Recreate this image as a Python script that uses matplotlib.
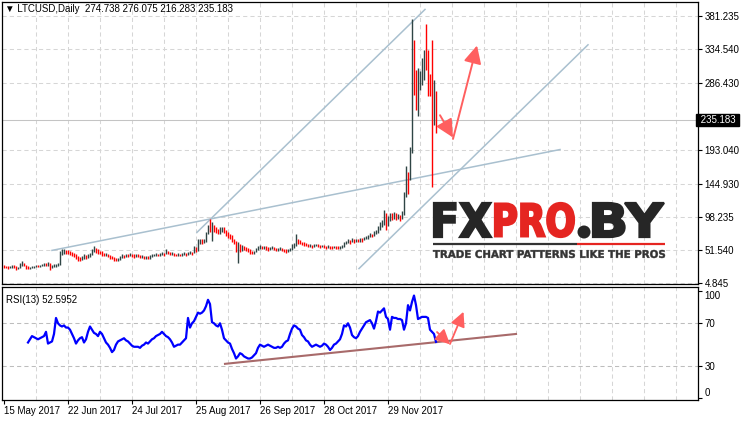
import matplotlib
matplotlib.use("Agg")
import numpy as np
import matplotlib.pyplot as plt
from matplotlib.textpath import TextPath
from matplotlib.patches import PathPatch, Circle
from matplotlib.font_manager import FontProperties
from matplotlib.transforms import Affine2D, blended_transform_factory

W, H = 741, 421
FONT = ["Liberation Sans", "DejaVu Sans"]
plt.rcParams["font.family"] = FONT

# ---- daily bars (open of each bar = previous close) ----
first_open = 28.5
closes = [
    28, 27, 26, 27, 29, 28, 25, 26, 31, 33,
    29, 27, 25, 26, 27, 28, 29, 28, 29, 30,
    31, 30, 32, 26, 28, 29, 29, 30,
    46, 48, 50, 49,
    48, 46, 45, 43, 41,
    39, 38, 40,
    42, 41, 43, 44,
    51, 52, 50, 49,
    47, 46, 44, 45, 43, 41, 40, 39, 37,
    38,
    41, 43, 42, 44, 43, 44,
    43, 42, 44,
    43, 42, 42, 41, 41, 40, 42,
    43, 44, 45, 44, 45, 46, 45,
    49,
    47, 46, 46, 45, 44, 45, 44,
    45, 46, 45, 46, 47, 46,
    52, 50, 60, 63, 62, 64, 74, 82, 78, 86, 81, 79, 77, 80, 82, 78, 74, 72, 70, 66, 63, 55, 58,
    52, 55, 54, 52, 51,
    49, 47, 48,
    52, 54, 55, 54, 55, 53, 52, 53,
    54, 53, 51, 52, 53, 52, 50, 49, 51, 52,
    56, 58,
    64, 62, 61,
    60, 59, 58, 56, 57, 56,
    57, 58, 57, 56, 57, 56, 55, 56, 55, 54, 56,
    55, 54, 55, 56,
    60, 62, 63, 62, 64,
    63, 65, 64, 66, 65, 67, 68,
    70, 72, 71, 74, 76,
    82, 86, 88,
    100, 86, 97, 99,
    98, 100, 97, 99, 96, 101,
    128, 160, 140, 190, 300, 285, 255, 300, 301, 318, 325, 315, 280, 272, 230, 274.738, 235.183,
]
highs = [
    30, 29, 28, 29, 30, 30, 28, 27, 33, 36,
    33, 30, 28, 27, 29, 29, 30, 30, 30, 31,
    33, 32, 34, 33, 30, 31, 31, 32,
    49, 52, 52, 51,
    51, 50, 48, 47, 45,
    42, 41, 42,
    45, 44, 46, 47,
    53, 56, 54, 52,
    50, 49, 47, 47, 46, 44, 42, 41, 40,
    40,
    43, 45, 44, 46, 46, 47,
    46, 45, 46,
    45, 44, 44, 43, 43, 42, 44,
    45, 46, 47, 46, 47, 48, 47,
    52,
    49, 48, 48, 47, 46, 47, 46,
    47, 48, 47, 48, 49, 48,
    57, 55, 66, 67, 66, 67, 77, 86, 95, 91, 86, 83, 81, 83, 84, 83, 79, 76, 74, 72, 67, 64, 62,
    59, 58, 57, 55, 54,
    52, 50, 50,
    54, 56, 58, 57, 57, 56, 55, 55,
    56, 55, 54, 54, 55, 54, 53, 52, 53, 54,
    59, 61,
    73, 66, 65,
    63, 62, 61, 59, 59, 58,
    59, 60, 59, 58, 58, 58, 57, 58, 57, 56, 57,
    57, 56, 57, 58,
    62, 64, 66, 65, 68,
    66, 67, 66, 68, 68, 70, 71,
    72, 75, 74, 78, 80,
    85, 90, 93,
    107, 104, 99, 103,
    104, 105, 103, 102, 101, 106,
    133, 170, 161, 197, 377, 348, 305, 308, 304, 323, 334, 370, 333, 300, 348, 291, 276.075,
]
lows = [
    25, 25, 24, 25, 26, 26, 23, 24, 25, 29,
    28, 24, 24, 24, 25, 26, 27, 27, 27, 28,
    29, 28, 29, 23, 26, 27, 27, 28,
    30, 44, 45, 46,
    46, 44, 43, 41, 39,
    36, 35, 37,
    39, 38, 40, 41,
    44, 48, 47, 46,
    45, 43, 42, 42, 41, 39, 38, 36, 35,
    35,
    37, 40, 40, 41, 41, 42,
    41, 40, 41,
    41, 40, 40, 39, 39, 38, 39,
    41, 42, 43, 42, 43, 44, 43,
    45,
    45, 44, 44, 43, 42, 43, 42,
    43, 44, 43, 44, 45, 44,
    47, 48, 50, 60, 60, 61, 63, 73, 76, 64, 76, 75, 74, 74, 76, 75, 71, 68, 66, 63, 60, 48, 33,
    48, 50, 51, 49, 48,
    46, 45, 45,
    48, 51, 52, 52, 53, 51, 50, 51,
    52, 51, 49, 50, 51, 50, 48, 47, 48, 50,
    51, 54,
    57, 60, 59,
    58, 57, 56, 55, 55, 54,
    55, 56, 55, 54, 55, 54, 53, 54, 53, 52, 54,
    53, 52, 53, 54,
    55, 59, 61, 60, 62,
    61, 62, 62, 63, 63, 65, 66,
    67, 69, 69, 71, 73,
    75, 80, 84,
    86, 79, 85, 92,
    94, 95, 93, 95, 92, 95,
    100, 126, 130, 150, 188, 270, 249, 240, 277, 284, 291, 306, 268, 268, 140, 227, 216.283,
]

# ---- RSI(13), first value at bar 12 ----
rsi_start = 12
rsi_values = [
    52, 55, 58, 57, 56, 55, 56, 57, 58, 62,
    51, 52, 53, 60, 75, 70, 68, 67, 68, 66,
    66, 64, 60, 56, 51, 54, 56, 57, 52, 55,
    62, 67, 64, 61, 60, 58, 62, 60, 56, 52,
    50, 47, 43, 45, 50, 53, 54, 55, 56, 54,
    53, 51, 49, 48, 48, 48, 47, 49, 50, 52,
    51, 53, 55, 56, 58, 59, 60, 62, 60, 58,
    57, 55, 52, 48, 49, 50, 50, 52, 54, 56,
    75, 66, 70, 72, 76, 80, 79, 80, 82, 86,
    92, 88, 71, 70, 68, 67, 70, 64, 56, 54,
    52, 51, 46, 42, 37, 39, 42, 41, 39, 38,
    37, 37, 38, 40, 42, 47, 50, 49, 48, 49,
    50, 49, 48, 47, 47, 48, 47, 48, 51, 53,
    54, 60, 65, 68, 67, 65, 64, 59, 57, 54,
    53, 50, 48, 49, 50, 49, 48, 49, 51, 50,
    48, 45, 47, 50, 51, 53, 55, 60, 68, 67,
    70, 66, 59, 57, 56, 58, 62, 65, 68, 71,
    72, 73, 70, 65, 72, 81, 80, 82, 84, 76,
    74, 64, 76, 75, 75, 74, 74, 73, 64, 70,
    87, 82, 90, 96, 87, 74, 75, 76, 76, 76,
    75, 64, 62, 60, 52.5952,
]

price_ticks = [4.845, 51.540, 98.235, 144.930, 193.040, 286.430, 334.540, 381.235]
price_labels = ["4.845", "51.540", "98.235", "144.930", "193.040", "286.430", "334.540", "381.235"]
last_price = 235.183
rsi_ticks = [0, 30, 70, 100]
date_pos = [0, 32, 64, 96, 128, 160, 192]
date_labels = ["15 May 2017", "22 Jun 2017", "24 Jul 2017", "25 Aug 2017",
               "26 Sep 2017", "28 Oct 2017", "29 Nov 2017"]

# drawn studies (bar index, value)
channel_lines = [((24, 50.5), (278, 193)), ((96.5, 76), (210.5, 391)), ((177.5, 24.8), (292, 341))]
rsi_trend = ((110.5, 32), (256, 60))
price_arrows = [((218, 241.5), (224.5, 210)), ((224.5, 208), (236.5, 340))]
rsi_arrows = [((216.5, 61.8), (223, 50.3)), ((223, 50.6), (229.75, 80.8))]

UP = "#2f4545"
DOWN = "#ff0000"
GRID = "#d6d6d6"
CHAN = "#a9c0cf"
ARROW = "#ff5f5f"


def px_rect(x0, y0, x1, y1):
    return [x0 / W, 1 - y1 / H, (x1 - x0) / W, (y1 - y0) / H]


def fit_text(ax, s, x0, x1, ytop, ybot, color, weight="bold", stroke=0.0):
    tp = TextPath((0, 0), s, size=10, prop=FontProperties(family="DejaVu Sans", weight=weight))
    bb = tp.get_extents()
    tr = (Affine2D().translate(-bb.x0, -bb.y0)
          .scale((x1 - x0) / bb.width, (ybot - ytop) / bb.height)
          .translate(x0, H - ybot))
    ax.add_patch(PathPatch(tr.transform_path(tp), fc=color, ec=color if stroke else "none",
                           lw=stroke, joinstyle="miter", zorder=3))


fig = plt.figure(figsize=(W / 100, H / 100), dpi=100)
fig.patch.set_facecolor("white")
ax_p = fig.add_axes(px_rect(1.5, 1.5, 697.5, 284))
ax_r = fig.add_axes(px_rect(1.5, 287, 697.5, 399.5))

xlim = (-1.25, 346.75)
grid_x = np.arange(16, 347, 16)

# ---- price panel ----
idx = np.arange(len(closes))
opens = [first_open] + closes[:-1]
bar_cols = [UP if c >= o else DOWN for o, c in zip(opens, closes)]
ax_p.vlines(idx, lows, highs, colors=bar_cols, lw=1.0, zorder=3)

ax_p.set_xlim(*xlim)
ax_p.set_ylim(3.0, 402.2)
ax_p.vlines(grid_x, 3.0, 402.2, colors=GRID, lw=0.75, linestyles=(0, (4, 3)), zorder=0)
ax_p.hlines(price_ticks, *xlim, colors=GRID, lw=0.75, linestyles=(0, (4, 3)), zorder=0)
ax_p.axhline(last_price, color="#c4c4c4", lw=0.75, zorder=1)

for (x0, y0), (x1, y1) in channel_lines:
    ax_p.plot([x0, x1], [y0, y1], color=CHAN, lw=1.1, zorder=2)
for tail, tip in price_arrows:
    ax_p.annotate("", xy=tip, xytext=tail, zorder=4,
                  arrowprops=dict(arrowstyle="-|>,head_length=0.9,head_width=0.45",
                                  color=ARROW, lw=1.4, shrinkA=0, shrinkB=0, mutation_scale=12))

ax_p.yaxis.tick_right()
ax_p.set_yticks(price_ticks)
ax_p.set_yticklabels(price_labels)
ax_p.tick_params(axis="y", length=3, width=0.8, pad=2, labelsize=7, colors="black")
ax_p.tick_params(axis="x", length=0, labelbottom=False)
ax_p.text(1.0, last_price, " 235.183 ", transform=blended_transform_factory(ax_p.transAxes, ax_p.transData),
          ha="left", va="center", fontsize=7, color="white",
          bbox=dict(boxstyle="square,pad=0.12", fc="black", ec="black"), clip_on=False)

# ---- RSI panel ----
rsi_idx = np.arange(rsi_start, rsi_start + len(rsi_values))
ax_r.plot(rsi_idx, rsi_values, color="#0000ff", lw=1.6, zorder=3)
ax_r.set_xlim(*xlim)
ax_r.set_ylim(-1.4, 104)
ax_r.vlines(grid_x, -1.4, 104, colors=GRID, lw=0.75, linestyles=(0, (4, 3)), zorder=0)
ax_r.hlines([30, 70], *xlim, colors="#bdbdbd", lw=0.75, linestyles=(0, (4, 3)), zorder=0)
(x0, y0), (x1, y1) = rsi_trend
ax_r.plot([x0, x1], [y0, y1], color="#a86a6a", lw=1.5, zorder=2)
for tail, tip in rsi_arrows:
    ax_r.annotate("", xy=tip, xytext=tail, zorder=4,
                  arrowprops=dict(arrowstyle="-|>,head_length=0.8,head_width=0.4",
                                  color=ARROW, lw=1.3, shrinkA=0, shrinkB=0, mutation_scale=11))

ax_r.yaxis.tick_right()
ax_r.set_yticks(rsi_ticks)
ax_r.set_yticklabels([str(t) for t in rsi_ticks])
ax_r.tick_params(axis="y", length=3, width=0.8, pad=2, labelsize=7)
tl = ax_r.get_yticklabels()
tl[0].set_va("bottom")
tl[-1].set_va("top")
ax_r.set_xticks(date_pos)
ax_r.set_xticklabels(date_labels, ha="left")
ax_r.tick_params(axis="x", length=3, width=0.8, pad=1.5, labelsize=7)
ax_r.text(0.007, 0.93, "RSI(13) 52.5952", transform=ax_r.transAxes, ha="left", va="top", fontsize=7)

for ax in (ax_p, ax_r):
    for sp in ax.spines.values():
        sp.set_color("black")
        sp.set_linewidth(0.9)

# ---- overlay in pixel coordinates: header and watermark ----
ov = fig.add_axes([0, 0, 1, 1], zorder=5)
ov.set_xlim(0, W)
ov.set_ylim(0, H)
ov.axis("off")
ov.patch.set_alpha(0)
ov.text(5, H - 8.5, "\u25bc LTCUSD,Daily  274.738 276.075 216.283 235.183",
        ha="left", va="center", fontsize=7, color="black")

fit_text(ov, "FX", 434, 491, 203, 237, "#262626", weight="heavy", stroke=1.6)
fit_text(ov, "PRO", 495, 574, 203, 237, "#e52521", weight="heavy", stroke=1.6)
ov.add_patch(Circle((584, H - 232), 6.5, fc="#262626", ec="none", zorder=3))
fit_text(ov, "BY", 593, 664, 203, 237, "#262626", weight="heavy", stroke=1.6)
ov.plot([433, 577], [H - 244, H - 244], color="#333333", lw=1.6, solid_capstyle="butt")
ov.plot([577, 665], [H - 244, H - 244], color="#e52521", lw=1.6, solid_capstyle="butt")
fit_text(ov, "TRADE CHART PATTERNS LIKE THE PROS", 433, 665, 250, 258, "#333333", stroke=0.3)

fig.savefig("out.png", dpi=100)
